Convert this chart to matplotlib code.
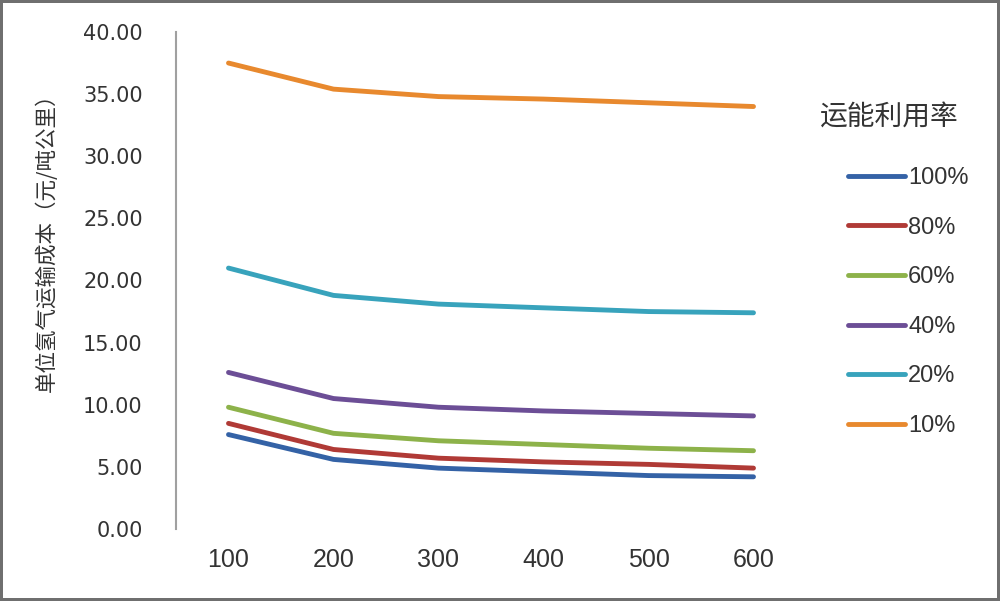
import matplotlib
matplotlib.use('Agg')
import matplotlib.pyplot as plt

plt.rcParams['font.family'] = ['Noto Sans CJK SC', 'DejaVu Sans']

# distance (km) and unit cost per utilisation rate
distance = [100, 200, 300, 400, 500, 600]
labels = ['100%', '80%', '60%', '40%', '20%', '10%']
cost_100 = [7.6, 5.6, 4.9, 4.6, 4.3, 4.2]
cost_80 = [8.5, 6.4, 5.7, 5.4, 5.2, 4.9]
cost_60 = [9.8, 7.7, 7.1, 6.8, 6.5, 6.3]
cost_40 = [12.6, 10.5, 9.8, 9.5, 9.3, 9.1]
cost_20 = [21.0, 18.8, 18.1, 17.8, 17.5, 17.4]
cost_10 = [37.5, 35.4, 34.8, 34.6, 34.3, 34.0]
yticks = [0, 5, 10, 15, 20, 25, 30, 35, 40]

colors = ['#3462A6', '#B03A36', '#8DB24A', '#6C4E96', '#38A3BC', '#E8892E']
text_color = '#333333'

fig = plt.figure(figsize=(10, 6.01), dpi=100)
fig.patch.set_edgecolor('#6f6f6f')
fig.patch.set_linewidth(3)
ax = fig.add_axes([0.176, 0.1198, 0.63, 0.827])

series = [cost_100, cost_80, cost_60, cost_40, cost_20, cost_10]
for data, label, color in zip(series, labels, colors):
    ax.plot(distance, data, color=color, linewidth=3.5, label=label,
            solid_capstyle='round', solid_joinstyle='round')

ax.set_xlim(50, 650)
ax.set_ylim(0, 40)
ax.set_xticks(distance)
ax.set_xticklabels([str(d) for d in distance], family='Liberation Sans', fontsize=18)
ax.set_yticks(yticks)
ax.set_yticklabels([f'{v:.2f}' for v in yticks], family='DejaVu Sans', fontsize=15)
ax.tick_params(axis='both', length=0, colors=text_color)
ax.tick_params(axis='y', pad=24)
ax.tick_params(axis='x', pad=14)
for side in ['top', 'right', 'bottom']:
    ax.spines[side].set_visible(False)
ax.spines['left'].set_color('#a0a0a0')
ax.spines['left'].set_linewidth(1.5)

ax.set_ylabel('单位氢气运输成本（元/吨公里）', fontsize=15.5, color=text_color)
ax.yaxis.set_label_coords(-0.187, 0.587)

leg = ax.legend(loc='upper left', bbox_to_anchor=(0.848, 1 - 167 / 601),
                bbox_transform=fig.transFigure, frameon=False,
                prop={'family': 'Liberation Sans', 'size': 17},
                borderpad=0, borderaxespad=0,
                handlelength=2.4, handletextpad=0.15, labelspacing=1.17)
for text in leg.get_texts():
    text.set_color(text_color)

fig.text(0.889, 1 - 118 / 601, '运能利用率', fontsize=20, color=text_color,
         ha='center', va='center')

fig.savefig('out.png', dpi=100, edgecolor=fig.get_edgecolor())
